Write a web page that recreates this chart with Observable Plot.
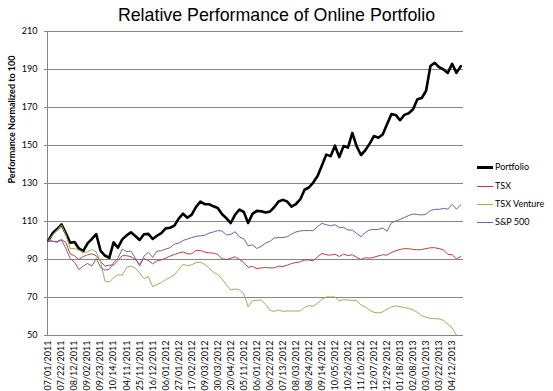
<!DOCTYPE html>
<html><head><meta charset="utf-8">
<script src="https://cdn.jsdelivr.net/npm/d3@7"></script>
<script src="https://cdn.jsdelivr.net/npm/@observablehq/plot@0.6"></script>
<style>
body{margin:0;background:#fff;}
#wrap{position:relative;width:553px;height:391px;overflow:hidden;background:#fff;}
#wrap svg{position:absolute;left:0;top:0;}
#title{position:absolute;left:0;width:553px;top:5px;line-height:21px;text-align:center;font-size:17.8px;font-family:"Liberation Sans",Arial,sans-serif;color:#000;}
.lg{position:absolute;left:477px;height:12px;line-height:12px;font-family:Lato,sans-serif;font-size:9px;color:#000;white-space:nowrap;}
.lg .sw{position:absolute;left:0;width:16px;}
.lg .tx{position:absolute;left:18px;top:0;}
</style></head><body>
<div id="wrap"><div id="title">Relative Performance of Online Portfolio</div></div>
<script>
const tickLabels = ["07/01/2011","07/22/2011","08/12/2011","09/02/2011","09/23/2011","10/14/2011","04/11/2011","25/11/2011","16/12/2011","06/01/2012","27/01/2012","17/02/2012","09/03/2012","30/03/2012","20/04/2012","05/11/2012","06/01/2012","06/22/2012","07/13/2012","08/03/2012","08/24/2012","09/14/2012","10/05/2012","10/26/2012","11/16/2012","12/07/2012","12/29/2012","01/18/2013","02/08/2013","03/01/2013","03/22/2013","04/12/2013"];
const yTicks = [50,70,90,110,130,150,170,190,210];
const seriesNames = ["Portfolio","TSX","TSX Venture","S&P 500"];
const seriesColors = ["#000000","#B8423F","#94B455","#7B5E9E"];

const portfolio = [100,104,106,108.5,103.8,98.8,99.2,95.8,94.4,98.5,
100.8,103.3,94.6,92.1,90.9,99,96.2,100.6,102.7,104.3,
102.4,100.3,103.3,103.5,100.8,102.5,103.9,106.4,106.7,107.8,
111.5,114.1,112,113.6,117.7,120.5,119.1,119.1,118,117.1,
113.8,111.7,109.2,113.6,116.3,115,109.2,114,115.6,115.4,
114.7,115.2,117.5,120.5,121.4,120.5,117.8,119.2,121.6,126.7,
127.9,130.5,133.9,139.5,145.2,144.4,149.9,143.9,149.7,148.9,
156.6,149.6,145,147.5,151,155,154.1,155.8,161.2,166.5,
166.1,163.3,166.1,167,169.1,174.4,175,178.8,191.8,193.5,
191.2,190,188.2,193,188.2,191.8];
const tsx = [100,99.5,99.5,100.5,99,93,92,90,91.5,92.5,
93,92,89,86.5,87,87,89.5,92,92,91.5,
90,87.5,90.5,89.5,87.7,89.3,89.8,90.7,91.8,92.6,
93.4,94,93,93,94.8,94.8,93.9,93.5,93.4,92.6,
90.4,90,90.7,91.4,90,88.4,85.9,86.4,85.2,85.6,
85.8,85.6,85.6,86.5,86.3,87,87.9,88.4,88.8,89.7,
89.8,89.3,91.4,93.2,92.5,92.3,92.8,91.6,92.8,92.1,
92.5,91.2,90,91,90.7,91.2,91.9,92.5,92.3,93.7,
94.6,95.3,95.7,95.7,95.3,95.1,95.3,95.7,96.2,96.2,
95.7,95.1,92.7,92.5,90.4,91.6];
const venture = [100,103,105.6,108.2,103,95.8,95.8,95,93.7,94,
95.3,94,88.8,78.7,78.1,80.4,82,81.8,85.8,86.6,
85.4,82.9,79.9,81,75.7,76.8,77.8,79.4,80.5,81.9,
84.7,87.5,86.8,87.2,88.4,88.6,87.4,85.6,83.3,82.1,
79.8,76.6,74,74.5,74,71.9,65.2,68.3,68.5,68.7,
66.4,63.4,62.7,63.4,62.7,62.9,62.9,62.9,62.9,64.8,
65.7,65.5,66.9,69,70.3,70.3,70.3,68.2,68.9,68.7,
68.5,68.3,66,65,63.3,62.2,61.9,62.4,63.8,65,
65.6,65.2,64.7,64.3,63.4,62.2,60.4,59.6,59,58.9,
58.7,58,55.9,54,50.2,47];
const sp500 = [100,99.7,99,100.3,95.8,90.5,88.6,84.7,86.5,87.9,
86.6,90.5,85.8,84.4,84.9,88.3,90.7,95.5,94.2,94.4,
90.9,86.5,91.8,93.7,91.2,94.4,94.6,95.5,96.2,98.1,
98.6,100,100.8,101.5,102.2,102.5,102.7,103.9,104.5,105.2,
105,102.9,103.2,104.6,101.8,100.9,97.2,97.7,95.8,96.9,
98.6,99.5,101.3,101.6,101.6,102,103.4,104.5,105,105.3,
105.2,105.2,107.4,109,108.3,107.8,108.3,106.9,106.9,105.5,
105.5,103.7,102,104.2,105.6,105.8,105.8,106.6,104.9,109.3,
110.2,111.1,112.1,113.2,113.9,113.7,113.4,113.9,115.8,116.4,
116.4,116.9,116.5,119,116.5,118.7];

const seriesValues = [portfolio, tsx, venture, sp500];
const seriesWidths = [2.6, 1, 1, 1];
const tickIdx = d3.range(0, tickLabels.length).map(k => k * 3);

const lineMarks = seriesValues.map((vals, s) =>
  Plot.line(vals, {x: (d, i) => i, y: d => d, stroke: seriesColors[s], strokeWidth: seriesWidths[s], clip: true, strokeLinejoin: "round"})
);

const chart = Plot.plot({
  width: 553, height: 391,
  marginLeft: 47, marginRight: 90, marginTop: 31, marginBottom: 56,
  style: {fontFamily: "Lato, sans-serif", fontSize: "9px", color: "#000", background: "transparent", overflow: "visible"},
  x: {domain: [-0.23, 95.62], axis: null},
  y: {domain: [50, 210], axis: null},
  marks: [
    Plot.ruleY(yTicks, {stroke: "#868686", strokeWidth: 1}),
    Plot.ruleX([-0.23], {stroke: "#868686", strokeWidth: 1}),
    Plot.axisY({ticks: yTicks, tickSize: 3, tickPadding: 7, stroke: "#868686", fill: "#000", fontSize: 9}),
    Plot.axisX({ticks: tickIdx, tickFormat: i => tickLabels[i / 3], tickRotate: -90, tickSize: 0, tickPadding: 5, fill: "#000", fontSize: 9}),
    Plot.text(["Performance Normalized to 100"], {frameAnchor: "left", rotate: -90, dx: -35, fontWeight: "bold", fontSize: 9, fill: "#000"}),
    ...lineMarks
  ]
});
const wrap = document.getElementById("wrap");
wrap.appendChild(chart);

const legendY = [167, 186, 204, 222];
seriesNames.forEach((name, s) => {
  const el = document.createElement("div");
  el.className = "lg";
  el.style.top = (legendY[s] - 6) + "px";
  const sw = document.createElement("div");
  sw.className = "sw";
  const w = s === 0 ? 3 : 1;
  sw.style.height = w + "px";
  sw.style.background = seriesColors[s];
  sw.style.top = (6 - Math.floor(w / 2)) + "px";
  const tx = document.createElement("div");
  tx.className = "tx";
  tx.textContent = name;
  el.appendChild(sw); el.appendChild(tx);
  wrap.appendChild(el);
});
</script>
</body></html>
